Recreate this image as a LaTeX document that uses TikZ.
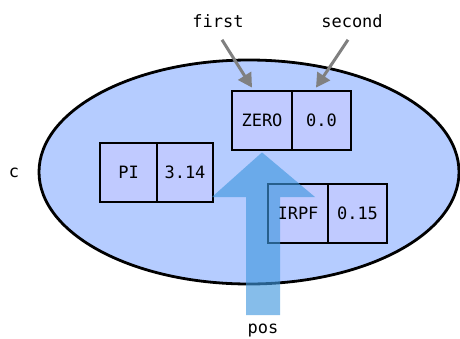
\documentclass[tikz,border=0pt]{standalone}
\usepackage{fontspec}
\setmonofont{DejaVu Sans Mono}
\usetikzlibrary{arrows.meta,shapes.geometric}
\definecolor{ellfill}{RGB}{181,204,255}
\definecolor{boxfill}{RGB}{192,202,255}
\definecolor{arrblue}{RGB}{63,151,222}
\definecolor{ptrgray}{RGB}{128,128,128}
\begin{document}
\begin{tikzpicture}[x=1pt,y=-1pt,
  lbl/.style={font=\ttfamily\fontsize{17}{20}\selectfont, inner sep=0pt},
  cell/.style={draw=black, line width=2.8pt, fill=boxfill, minimum height=59pt, inner sep=0pt,
    font=\ttfamily\fontsize{17}{20}\selectfont},
  ptr/.style={draw=ptrgray, line width=3pt, -{Triangle[length=14pt,width=15pt]}}]
\useasboundingbox (0,0) rectangle (460,338);
% container ellipse
\node[draw=black, line width=2.8pt, fill=ellfill, ellipse, inner sep=0pt,
  minimum width=420pt, minimum height=224pt] (ell) at (249,172) {};
% cells
\node[cell, minimum width=60pt] (zk) at (262,120.5) {ZERO};
\node[cell, minimum width=59pt] (zv) at (321.5,120.5) {0.0};
\node[cell, minimum width=57pt] (pk) at (128.5,172.5) {PI};
\node[cell, minimum width=56pt] (pv) at (185,172.5) {3.14};
\node[cell, minimum width=60pt] (ik) at (298,213.5) {IRPF};
\node[cell, minimum width=59pt] (iv) at (357.5,213.5) {0.15};
% labels
\node[lbl] (first) at (218,21) {first};
\node[lbl] (second) at (352,21) {second};
\node[lbl] (c) at (14,173) {c};
\node[lbl] (pos) at (263,330) {pos};
% pointer arrows
\draw[ptr] ([xshift=4pt,yshift=-12pt]first.south) -- ([xshift=-10pt,yshift=2pt]zk.north);
\draw[ptr] ([xshift=-4pt,yshift=-12pt]second.south) -- ([xshift=-5.5pt,yshift=2pt]zv.north);
% big block arrow
\coordinate (tip) at ([yshift=-1pt]zk.south);
\fill[arrblue, fill opacity=0.63]
  (246,315) -- (246,197) -- (212,197) -- (tip) -- (315,197) -- (280,197) -- (280,315) -- cycle;
\end{tikzpicture}
\end{document}
